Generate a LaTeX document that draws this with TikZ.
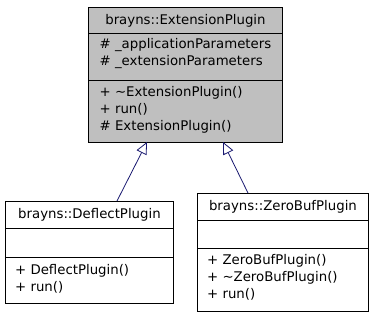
\documentclass[tikz,border=0pt]{standalone}
\usepackage{fontspec}
\setmainfont{DejaVu Sans}
\usetikzlibrary{arrows.meta}
\definecolor{edgeblue}{HTML}{191970}
\definecolor{basefill}{HTML}{BFBFBF}
\begin{document}
\begin{tikzpicture}[x=1pt,y=-1pt,
  compart/.style={draw=black, line width=0.9pt, inner sep=0pt, anchor=north west,
    font=\fontsize{13.3}{17}\selectfont},
  member/.style={inner sep=0pt, anchor=west, align=left,
    font=\fontsize{13.3}{17}\selectfont},
  inherit/.style={draw=edgeblue, line width=0.8pt,
    -{Triangle[open, length=12pt, width=11pt]}}]
\useasboundingbox (0,0) rectangle (373,317);

% base class
\node[compart, fill=basefill, minimum width=194pt, minimum height=26pt] (ep-title) at (88,7) {brayns::ExtensionPlugin};
\node[compart, fill=basefill, minimum width=194pt, minimum height=47pt] (ep-attr) at (88,33) {};
\node[compart, fill=basefill, minimum width=194pt, minimum height=62pt] (ep-ops) at (88,80) {};
\node[member] (ep-attr-t) at (99.5,54) {\# \_applicationParameters\\\# \_extensionParameters};
\node[member] (ep-ops-t) at (99.5,109.5) {+ \textasciitilde ExtensionPlugin()\\+ run()\\\# ExtensionPlugin()};

% derived: DeflectPlugin
\node[compart, fill=white, minimum width=168pt, minimum height=27pt] (dp-title) at (5,201) {brayns::DeflectPlugin};
\node[compart, fill=white, minimum width=168pt, minimum height=29pt] (dp-attr) at (5,228) {};
\node[compart, fill=white, minimum width=168pt, minimum height=46pt] (dp-ops) at (5,257) {};
\node[member] (dp-ops-t) at (15,279) {+ DeflectPlugin()\\+ run()};

% derived: ZeroBufPlugin
\node[compart, fill=white, minimum width=171pt, minimum height=27pt] (zb-title) at (197,193) {brayns::ZeroBufPlugin};
\node[compart, fill=white, minimum width=171pt, minimum height=28pt] (zb-attr) at (197,220) {};
\node[compart, fill=white, minimum width=171pt, minimum height=63pt] (zb-ops) at (197,248) {};
\node[member] (zb-ops-t) at (207,277.5) {+ ZeroBufPlugin()\\+ \textasciitilde ZeroBufPlugin()\\+ run()};

% inheritance edges
\coordinate (dp-in) at (117,201);
\coordinate (zb-in) at (248,193);
\coordinate (ep-in-l) at (147,142);
\coordinate (ep-in-r) at (223,142);
\draw[inherit] (dp-in) -- (ep-in-l);
\draw[inherit] (zb-in) -- (ep-in-r);
\end{tikzpicture}
\end{document}
